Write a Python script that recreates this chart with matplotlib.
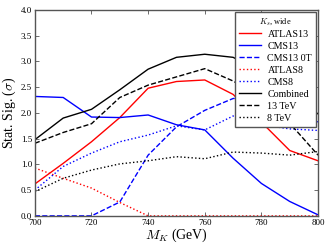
import matplotlib
matplotlib.use("Agg")
import matplotlib.pyplot as plt

mass = [700, 710, 720, 730, 740, 750, 760, 770, 780, 790, 800]
atlas13 = [0.62, 1.02, 1.44, 1.91, 2.48, 2.61, 2.64, 2.36, 1.82, 1.27, 1.07]
cms13 = [2.32, 2.30, 1.92, 1.91, 1.96, 1.77, 1.67, 1.12, 0.63, 0.28, 0.02]
cms13_0t = [0.0, 0.0, 0.0, 0.27, 1.18, 1.73, 2.05, 2.28, 2.30, 2.10, 1.82]
atlas8 = [0.93, 0.73, 0.54, 0.26, 0.0, 0.0, 0.0, 0.0, 0.0, 0.0, 0.0]
cms8 = [0.50, 0.96, 1.22, 1.44, 1.57, 1.75, 1.67, 1.94, 1.77, 1.69, 1.66]
combined = [1.48, 1.90, 2.07, 2.45, 2.85, 3.08, 3.14, 3.08, 2.80, 2.40, 1.98]
tev13 = [1.41, 1.62, 1.79, 2.30, 2.54, 2.70, 2.86, 2.62, 2.30, 1.80, 1.18]
tev8 = [0.47, 0.73, 0.89, 1.01, 1.07, 1.15, 1.11, 1.24, 1.22, 1.18, 1.25]

plt.rcParams['font.family'] = ['Liberation Serif', 'DejaVu Serif']
plt.rcParams['mathtext.fontset'] = 'cm'

fig = plt.figure(figsize=(3.32, 2.49), dpi=100)
ax = fig.add_axes([0.105, 0.133, 0.853, 0.827])

lw = 1.0
ax.plot(mass, atlas13, color='#ff0000', lw=lw, ls='-', label='ATLAS13')
ax.plot(mass, cms13, color='#0000ff', lw=lw, ls='-', label='CMS13')
ax.plot(mass, cms13_0t, color='#0000ff', lw=lw, ls='--', label='CMS13 0T')
ax.plot(mass, atlas8, color='#ff0000', lw=lw, ls=':', label='ATLAS8')
ax.plot(mass, cms8, color='#0000ff', lw=lw, ls=':', label='CMS8')
ax.plot(mass, combined, color='black', lw=lw, ls='-', label='Combined')
ax.plot(mass, tev13, color='black', lw=lw, ls='--', label='13 TeV')
ax.plot(mass, tev8, color='black', lw=lw, ls=':', label='8 TeV')

ax.set_xlim(700, 800)
ax.set_ylim(0, 4.0)
ax.set_xticks([700, 720, 740, 760, 780, 800])
ax.set_yticks([0.0, 0.5, 1.0, 1.5, 2.0, 2.5, 3.0, 3.5, 4.0])
ax.set_yticklabels(['0.0', '0.5', '1.0', '1.5', '2.0', '2.5', '3.0', '3.5', '4.0'])
ax.tick_params(direction='in', top=True, right=True, labelsize=6.5, length=3, width=0.6, color='#555555', pad=2)
for s in ax.spines.values():
    s.set_color('#555555')
    s.set_linewidth(1.0)

ax.set_xlabel(r'$M_K$ (GeV)', fontsize=10, labelpad=0)
ax.set_ylabel(r'Stat. Sig. ($\sigma$)', fontsize=10, labelpad=2)

leg = ax.legend(loc='upper right', title=r'$K_s$, wide', fontsize=7.2, title_fontsize=6,
                handlelength=2.2, labelspacing=0.3, borderpad=0.4, handletextpad=0.6,
                fancybox=False, framealpha=1.0, borderaxespad=0.2)
leg.get_frame().set_edgecolor('#555555')
leg.get_frame().set_linewidth(1.0)

fig.savefig('out.png', dpi=100)
